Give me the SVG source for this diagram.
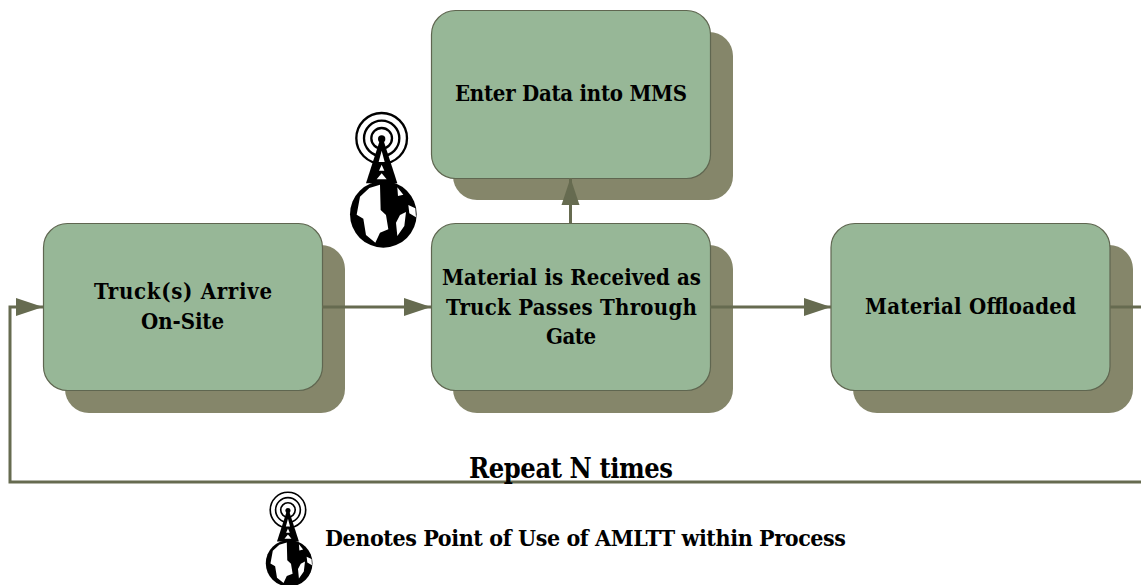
<svg xmlns="http://www.w3.org/2000/svg" width="1141" height="585" viewBox="0 0 1141 585">
<style>
.box{fill:#97b797;stroke:#5f6650;stroke-width:1.2}
.shadow{fill:#85866a}
.line{fill:none;stroke:#666b50;stroke-width:3}
text{font-family:"DejaVu Serif","Liberation Serif",serif;font-stretch:condensed;font-weight:700;font-size:22px;fill:#000;text-anchor:middle}
</style>
<defs>
<marker id="arrow" markerUnits="userSpaceOnUse" markerWidth="28" markerHeight="20" refX="27" refY="10" orient="auto"><path d="M0 1L27 10L0 19Z" fill="#666b50"/></marker>
<symbol id="icon" overflow="visible" viewBox="0 0 270 465" width="270" height="465">
<g fill="none" stroke="#000" stroke-width="7"><circle cx="125" cy="115" r="31"/><circle cx="125" cy="115" r="53"/><circle cx="125" cy="115" r="76"/></g>
<circle cx="125" cy="117" r="11"/>
<path d="M119 122H131L172 250H78Z"/>
<path d="M125 152L134 186H116ZM125 194L133 212H117ZM125 220L140 238H110Z" fill="#fff"/>
<circle cx="130" cy="343" r="100"/>
<path fill="#fff" d="M88 264L120 254L122 330L138 345L145 388L120 398L106 428L78 405L70 356L50 344L60 290Z"/>
<path fill="#fff" d="M172 262L190 284L174 288ZM180 345L198 336L193 378L172 408L168 368ZM205 315L226 325L228 352L208 340Z"/>
</symbol>
</defs>
<g id="node-enter-data"><rect class="shadow" x="453" y="32" width="280" height="168" rx="24"/><rect class="box" x="431.500" y="10.500" width="279" height="168" rx="24"/><text x="571" y="101" textLength="232">Enter Data into MMS</text></g>
<g id="node-truck"><rect class="shadow" x="65" y="245" width="280" height="168" rx="24"/><rect class="box" x="43.500" y="223.500" width="279" height="167" rx="24"/><text x="183" y="299" textLength="178">Truck(s) Arrive</text><text x="182.500" y="329" textLength="83">On-Site</text></g>
<g id="node-material-received"><rect class="shadow" x="453" y="245" width="280" height="168" rx="24"/><rect class="box" x="431.500" y="223.500" width="279" height="167" rx="24"/><text x="571.500" y="285" textLength="259">Material is Received as</text><text x="571.500" y="315" textLength="251">Truck Passes Through</text><text x="571" y="344" textLength="50">Gate</text></g>
<g id="node-offloaded"><rect class="shadow" x="853" y="245" width="280" height="168" rx="24"/><rect class="box" x="831" y="223.500" width="279" height="167" rx="24"/><text x="970.500" y="314" textLength="211">Material Offloaded</text></g>
<g id="connectors">
<path class="line" d="M322 307H431" marker-end="url(#arrow)"/>
<path class="line" d="M710 307H831" marker-end="url(#arrow)"/>
<path class="line" d="M570.500 223V178" marker-end="url(#arrow)"/>
<path class="line" d="M1110 307H1141"/>
<path class="line" d="M1141 482H10V307H43" marker-end="url(#arrow)"/>
</g>
<g id="icon-large"><use href="#icon" transform="translate(340 100) scale(.3333)"/></g>
<g id="icon-small"><use href="#icon" transform="translate(258.800 483.200) scale(.2333)"/></g>
<text x="571" y="478" style="font-size:27px" textLength="204">Repeat N times</text>
<text x="585.500" y="546" textLength="521" style="font-size:23px">Denotes Point of Use of AMLTT within Process</text>
</svg>
